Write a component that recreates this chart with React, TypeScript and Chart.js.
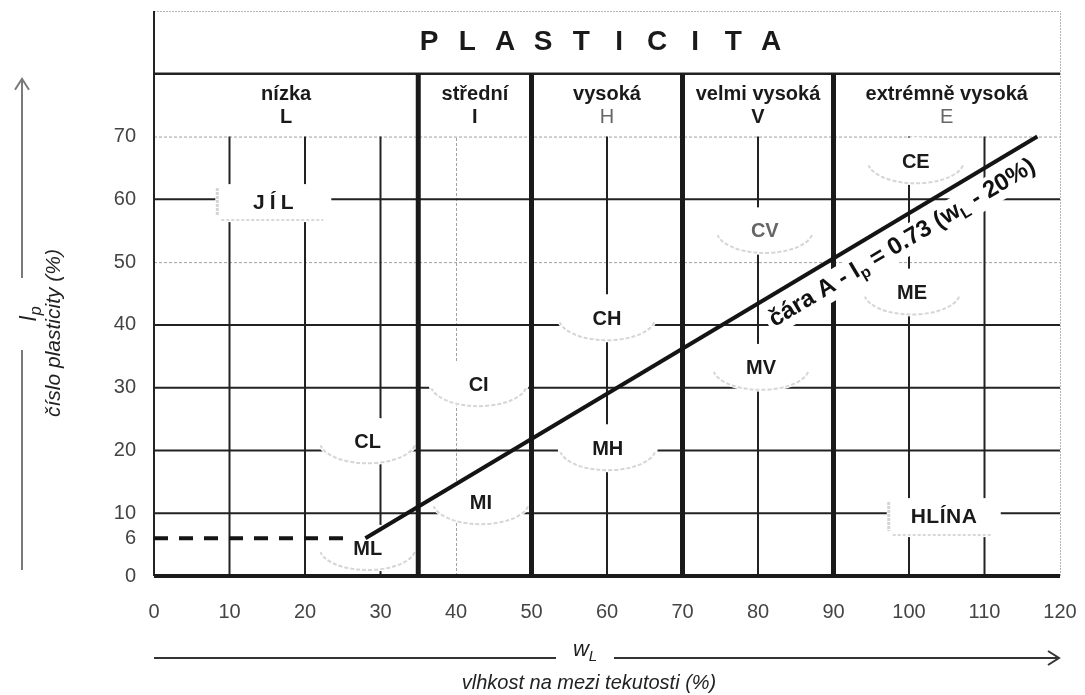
import React, { useEffect, useRef } from 'react';
import { Chart, registerables } from 'chart.js';

Chart.register(...registerables);

const FONT = '"Liberation Sans", Arial, Helvetica, sans-serif';

// ---- axes ----
const xMin = 0;
const xMax = 120;
const yMin = 0;
const yMax = 90;
const xTickStep = 10;
const yTicks = [0, 6, 10, 20, 30, 40, 50, 60, 70];

// ---- grid ----
const gridXDark = [10, 20, 30, 60, 80, 100, 110];
const gridXLight = [40];
const gridYDark = [10, 20, 30, 40, 60];
const gridYLight = [50, 70];
const gridTop = 70;
const headerLine = 80;

// ---- plasticity zones ----
const zoneEdges = [0, 35, 50, 70, 90, 120];
const zoneBounds = [35, 50, 70, 90];
const zoneNames = ['nízka', 'střední', 'vysoká', 'velmi vysoká', 'extrémně vysoká'];
const zoneLetters = ['L', 'I', 'H', 'V', 'E'];
const zoneLetterMuted = [false, false, true, false, true];
const headerTitle = 'PLASTICITA';

// ---- A-line and dashed limit ----
const aLineW = [28, 117];
const aLineIp = [6, 70];
const dashW = [0, 26];
const dashIp = [6, 6];

// ---- soil group labels ----
const soilNames = ['CL', 'ML', 'CI', 'MI', 'CH', 'MH', 'CV', 'MV', 'CE', 'ME'];
const soilW = [28.3, 28.3, 43.0, 43.3, 60.0, 60.1, 80.9, 80.4, 100.9, 100.4];
const soilIp = [21.3, 4.3, 30.4, 11.6, 40.9, 20.2, 54.8, 33.0, 65.9, 45.0];
const soilMuted = ['CV'];

const groupNames = ['JÍL', 'HLÍNA'];
const groupW = [15.8, 104.6];
const groupIp = [59.4, 9.3];
const groupSpacing = [5, 0.5];

// label positions (data units)
const titleW = 59.1;
const titleIp = 85.0;
const zoneNameIp = 76.7;
const zoneLetterIp = 73.0;
const aLabelW = 97.6;

type Seg = { t: string; sub?: boolean };
const aLabelSegs: Seg[] = [
  { t: 'čára A - I' },
  { t: 'p', sub: true },
  { t: ' = 0.73 (w' },
  { t: 'L', sub: true },
  { t: ' - 20%)' },
];
const yTitleSegs: Seg[] = [{ t: 'I' }, { t: 'p', sub: true }];
const xTitleSegs: Seg[] = [{ t: 'w' }, { t: 'L', sub: true }];
const yTitle = 'číslo plasticity (%)';
const xTitle = 'vlhkost na mezi tekutosti (%)';

function segFont(style: string, size: number, sub?: boolean) {
  return `${style}${sub ? Math.round(size * 0.68) : size}px ${FONT}`;
}
function richWidth(ctx: CanvasRenderingContext2D, segs: Seg[], size: number, style: string) {
  let w = 0;
  for (const s of segs) {
    ctx.font = segFont(style, size, s.sub);
    w += ctx.measureText(s.t).width;
  }
  return w;
}
function drawRich(
  ctx: CanvasRenderingContext2D,
  segs: Seg[],
  x: number,
  y: number,
  size: number,
  style: string,
  color: string
) {
  const w = richWidth(ctx, segs, size, style);
  let cx = x - w / 2;
  ctx.textAlign = 'left';
  ctx.textBaseline = 'middle';
  ctx.fillStyle = color;
  for (const s of segs) {
    ctx.font = segFont(style, size, s.sub);
    ctx.fillText(s.t, cx, y + (s.sub ? size * 0.3 : 0));
    cx += ctx.measureText(s.t).width;
  }
}
function drawSpaced(
  ctx: CanvasRenderingContext2D,
  text: string,
  x: number,
  y: number,
  spacing: number
) {
  const chars = Array.from(text);
  const widths = chars.map((c) => ctx.measureText(c).width);
  const total = widths.reduce((a, b) => a + b, 0) + spacing * (chars.length - 1);
  let cx = x - total / 2;
  ctx.textAlign = 'left';
  chars.forEach((c, i) => {
    ctx.fillText(c, cx, y);
    cx += widths[i] + spacing;
  });
}

const plasticityPlugin = {
  id: 'plasticity',
  beforeDatasetsDraw(chart: any) {
    const { ctx } = chart;
    const xs = chart.scales.x;
    const ys = chart.scales.y;
    const X = (v: number) => xs.getPixelForValue(v);
    const Y = (v: number) => ys.getPixelForValue(v);
    const line = (x1: number, y1: number, x2: number, y2: number, color: string, w: number, dash: number[] = []) => {
      ctx.beginPath();
      ctx.setLineDash(dash);
      ctx.strokeStyle = color;
      ctx.lineWidth = w;
      ctx.moveTo(x1, y1);
      ctx.lineTo(x2, y2);
      ctx.stroke();
    };
    ctx.save();
    ctx.lineCap = 'butt';

    // outer light borders
    line(X(xMin), Y(yMax) + 0.5, X(xMax), Y(yMax) + 0.5, '#b4b4b4', 1, [2, 1]);
    line(X(xMax) + 0.5, Y(yMin), X(xMax) + 0.5, Y(yMax), '#b4b4b4', 1, [2, 1]);

    // grid
    gridYLight.forEach((v) => line(X(xMin), Y(v) + 0.5, X(xMax), Y(v) + 0.5, '#a0a0a0', 1, [3, 2]));
    gridXLight.forEach((v) => line(X(v) + 0.5, Y(yMin), X(v) + 0.5, Y(gridTop), '#a0a0a0', 1, [3, 2]));
    gridYDark.forEach((v) => line(X(xMin), Y(v), X(xMax), Y(v), '#222', 2));
    gridXDark.forEach((v) => line(X(v), Y(yMin), X(v), Y(gridTop), '#222', 2));

    // soil label patches
    soilNames.forEach((n, i) => {
      const cx = X(soilW[i]);
      const cy = Y(soilIp[i]);
      ctx.setLineDash([]);
      ctx.beginPath();
      ctx.ellipse(cx, cy - 1, 50, 24, 0, 0, Math.PI * 2);
      ctx.fillStyle = '#fff';
      ctx.fill();
      ctx.beginPath();
      ctx.ellipse(cx, cy - 1, 48, 22, 0, 0.06 * Math.PI, 0.94 * Math.PI);
      ctx.strokeStyle = '#d6d6d6';
      ctx.lineWidth = 2;
      ctx.setLineDash([4, 2]);
      ctx.stroke();
    });

    // group boxes
    const boxW = [116, 114];
    const boxH = [38, 39];
    groupNames.forEach((n, i) => {
      const cx = X(groupW[i]);
      const cy = Y(groupIp[i]);
      const w = boxW[i];
      const h = boxH[i];
      ctx.fillStyle = '#fff';
      ctx.fillRect(cx - w / 2, cy - h / 2, w, h);
      line(cx - w / 2 + 2, cy - h / 2 + 4, cx - w / 2 + 2, cy + h / 2 - 6, '#d4d4d4', 3, [3, 1]);
      line(cx - w / 2 + 6, cy + h / 2 - 2, cx + w / 2 - 8, cy + h / 2 - 2, '#d8d8d8', 2, [3, 2]);
    });

    // axis lines and header line
    line(X(xMin), Y(headerLine), X(xMax), Y(headerLine), '#222', 2.5);
    line(X(xMin), Y(yMin), X(xMin), Y(yMax), '#222', 2);
    line(X(xMin), Y(yMin), X(xMax), Y(yMin), '#1a1a1a', 4);

    // soil label texts
    ctx.textAlign = 'center';
    ctx.textBaseline = 'middle';
    soilNames.forEach((n, i) => {
      ctx.font = `bold 20px ${FONT}`;
      ctx.fillStyle = soilMuted.includes(n) ? '#666' : '#1a1a1a';
      ctx.textAlign = 'center';
      ctx.fillText(n, X(soilW[i]), Y(soilIp[i]));
    });
    groupNames.forEach((n, i) => {
      ctx.font = `bold 21px ${FONT}`;
      ctx.fillStyle = '#1a1a1a';
      drawSpaced(ctx, n, X(groupW[i]), Y(groupIp[i]), groupSpacing[i]);
    });

    // header
    ctx.font = `bold 28px ${FONT}`;
    ctx.fillStyle = '#1a1a1a';
    ctx.textAlign = 'center';
    const letters = Array.from(headerTitle);
    const pitch = 38;
    letters.forEach((c, i) => {
      ctx.fillText(c, X(titleW) + (i - (letters.length - 1) / 2) * pitch, Y(titleIp));
    });
    zoneNames.forEach((n, i) => {
      const cx = (X(zoneEdges[i]) + X(zoneEdges[i + 1])) / 2;
      ctx.font = `bold 20px ${FONT}`;
      ctx.fillStyle = '#1a1a1a';
      ctx.textAlign = 'center';
      ctx.fillText(n, cx, Y(zoneNameIp));
      ctx.font = `${zoneLetterMuted[i] ? '' : 'bold '}20px ${FONT}`;
      ctx.fillStyle = zoneLetterMuted[i] ? '#666' : '#1a1a1a';
      ctx.fillText(zoneLetters[i], cx, Y(zoneLetterIp));
    });

    // y axis title with arrow
    const ax = 22;
    line(ax, Y(yMin) - 6, ax, 350, '#7a7a7a', 2);
    line(ax, 278, ax, Y(headerLine) + 6, '#7a7a7a', 2);
    ctx.beginPath();
    ctx.setLineDash([]);
    ctx.moveTo(ax - 7, Y(headerLine) + 16);
    ctx.lineTo(ax, Y(headerLine) + 5);
    ctx.lineTo(ax + 7, Y(headerLine) + 16);
    ctx.strokeStyle = '#7a7a7a';
    ctx.lineWidth = 2;
    ctx.stroke();
    ctx.save();
    ctx.translate(30, 314);
    ctx.rotate(-Math.PI / 2);
    drawRich(ctx, yTitleSegs, 0, 0, 23, 'italic ', '#222');
    ctx.restore();
    ctx.save();
    ctx.translate(54, 333);
    ctx.rotate(-Math.PI / 2);
    ctx.font = `italic 21px ${FONT}`;
    ctx.fillStyle = '#222';
    ctx.textAlign = 'center';
    ctx.textBaseline = 'middle';
    ctx.fillText(yTitle, 0, 0);
    ctx.restore();

    // x axis title with arrow
    const ay = 658;
    line(X(xMin), ay, 556, ay, '#333', 2);
    line(614, ay, X(xMax) - 2, ay, '#333', 2);
    ctx.beginPath();
    ctx.setLineDash([]);
    ctx.moveTo(X(xMax) - 12, ay - 7);
    ctx.lineTo(X(xMax) - 1, ay);
    ctx.lineTo(X(xMax) - 12, ay + 7);
    ctx.strokeStyle = '#333';
    ctx.lineWidth = 2;
    ctx.stroke();
    drawRich(ctx, xTitleSegs, 585, 650, 22, 'italic ', '#222');
    ctx.font = `italic 20px ${FONT}`;
    ctx.fillStyle = '#222';
    ctx.textAlign = 'center';
    ctx.textBaseline = 'middle';
    ctx.fillText(xTitle, 589, 683);

    ctx.restore();
  },
  afterDatasetDraw(chart: any, args: any) {
    if (args.index !== 2) return;
    const { ctx } = chart;
    const xs = chart.scales.x;
    const ys = chart.scales.y;
    const p0x = xs.getPixelForValue(aLineW[0]);
    const p0y = ys.getPixelForValue(aLineIp[0]);
    const p1x = xs.getPixelForValue(aLineW[1]);
    const p1y = ys.getPixelForValue(aLineIp[1]);
    const ang = Math.atan2(p1y - p0y, p1x - p0x);
    const t = (aLabelW - aLineW[0]) / (aLineW[1] - aLineW[0]);
    const px = p0x + t * (p1x - p0x);
    const py = p0y + t * (p1y - p0y);
    const d = 22;
    const cx = px - Math.sin(ang) * d;
    const cy = py + Math.cos(ang) * d;
    ctx.save();
    ctx.translate(cx, cy);
    ctx.rotate(ang);
    const size = 24;
    const w = richWidth(ctx, aLabelSegs, size, 'bold ');
    ctx.fillStyle = '#fff';
    ctx.fillRect(-w / 2 - 4, -14, w + 8, 29);
    drawRich(ctx, aLabelSegs, 0, 0, size, 'bold ', '#111');
    ctx.restore();
  },
};

const zeroPadding = (s: any) => {
  s.paddingTop = 0;
  s.paddingBottom = 0;
  s.paddingLeft = 0;
  s.paddingRight = 0;
};

export default function App() {
  const ref = useRef<HTMLCanvasElement>(null);
  useEffect(() => {
    const canvas = ref.current;
    if (!canvas) return;
    const zoneData: any[] = [];
    zoneBounds.forEach((b) => {
      zoneData.push({ x: b, y: yMin }, { x: b, y: headerLine }, { x: b, y: null });
    });
    const chart = new Chart(canvas, {
      type: 'line',
      data: {
        datasets: [
          {
            label: 'čára A',
            data: aLineW.map((x, i) => ({ x, y: aLineIp[i] })),
            borderColor: '#141414',
            borderWidth: 4,
            pointRadius: 0,
            tension: 0,
          },
          {
            label: 'Ip = 6',
            data: dashW.map((x, i) => ({ x, y: dashIp[i] })),
            borderColor: '#141414',
            borderWidth: 4,
            borderDash: [14, 11],
            pointRadius: 0,
          },
          {
            label: 'hranice plasticity',
            data: zoneData,
            borderColor: '#1a1a1a',
            borderWidth: 5,
            pointRadius: 0,
            spanGaps: false,
          },
        ],
      },
      options: {
        animation: false,
        responsive: false,
        devicePixelRatio: 1,
        layout: { padding: { left: 0, right: 25, top: 11, bottom: 0 } },
        plugins: { legend: { display: false }, tooltip: { enabled: false } },
        scales: {
          x: {
            type: 'linear',
            min: xMin,
            max: xMax,
            grid: { display: false, drawTicks: false },
            border: { display: false },
            ticks: {
              stepSize: xTickStep,
              autoSkip: false,
              maxRotation: 0,
              padding: 24,
              color: '#444',
              font: { family: FONT, size: 20 },
              callback: (v: any) => String(v),
            },
            afterFit: (s: any) => {
              s.height = 119;
              zeroPadding(s);
            },
          },
          y: {
            type: 'linear',
            min: yMin,
            max: yMax,
            grid: { display: false, drawTicks: false },
            border: { display: false },
            afterBuildTicks: (s: any) => {
              s.ticks = yTicks.map((v) => ({ value: v }));
            },
            ticks: {
              autoSkip: false,
              padding: 18,
              color: '#444',
              font: { family: FONT, size: 20 },
              callback: (v: any) => String(v),
            },
            afterFit: (s: any) => {
              s.width = 154;
              zeroPadding(s);
            },
          },
        },
      },
      plugins: [plasticityPlugin],
    } as any);
    return () => chart.destroy();
  }, []);
  return (
    <div style={{ position: 'absolute', left: 0, top: 0, width: 1085, height: 695, background: '#fff' }}>
      <canvas ref={ref} width={1085} height={695} style={{ display: 'block', width: 1085, height: 695 }} />
    </div>
  );
}
